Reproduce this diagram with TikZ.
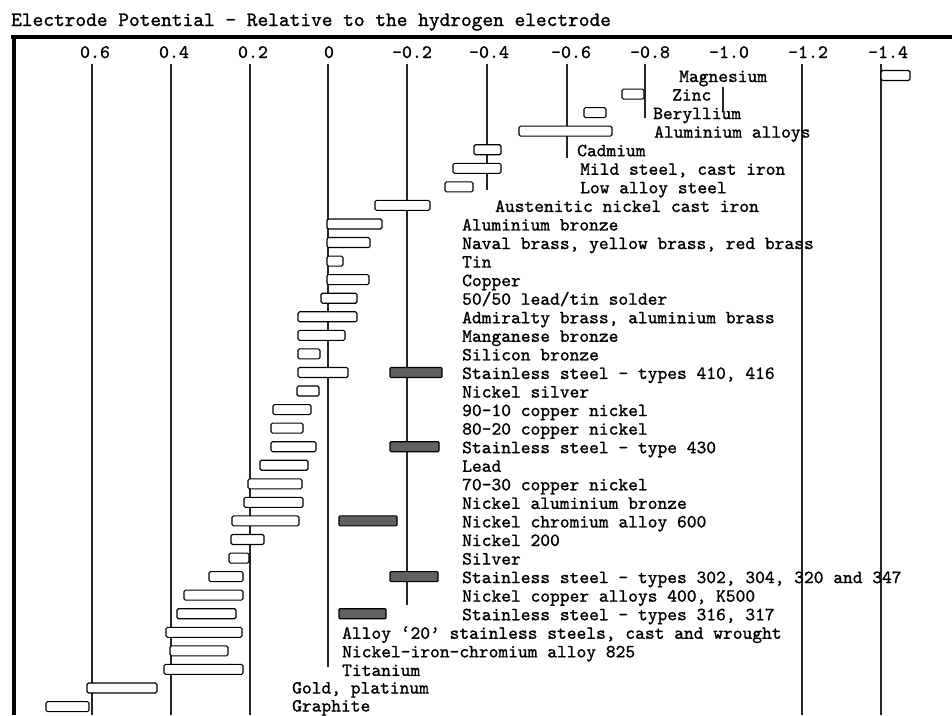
\documentclass[tikz,border=0pt]{standalone}
\usepackage{fontspec}
\newfontfamily\cour[Extension=.otf, FakeBold=1.1]{lmmono10-regular}
\begin{document}
\begin{tikzpicture}[x=1pt,y=-1pt,
  gridline/.style={line width=1.3pt, black!85},
  wbar/.style={draw=black, line width=1.1pt, fill=white, rounded corners=1.5pt},
  dbar/.style={draw=black, line width=1.1pt, fill=black!62, rounded corners=1pt},
  lab/.style={anchor=base west, inner sep=0pt, font=\cour\fontsize{18.6}{20}\selectfont},
  ticklab/.style={anchor=base, inner sep=0pt, font=\cour\fontsize{19}{20}\selectfont},
  titlelab/.style={anchor=base west, inner sep=0pt, font=\cour\fontsize{20.4}{22}\selectfont}]
\useasboundingbox (0,0) rectangle (952,715);
\fill[white] (0,0) rectangle (952,715);

% title and frame
\node[titlelab] (title) at (11,26) {Electrode Potential - Relative to the hydrogen electrode};
\coordinate (tl) at (11,37);
\coordinate (tr) at (952,37);
\coordinate (bl) at (14,715);
\draw[line width=3.4pt] (tl) -- (tr);
\draw[line width=3.4pt] (14,35.3) -- (bl);

% tick labels
\node[ticklab] (t1) at (95,58) {0.6};
\node[ticklab] (t2) at (174,58) {0.4};
\node[ticklab] (t3) at (253,58) {0.2};
\node[ticklab] (t4) at (329,58) {0};
\node[ticklab] (t5) at (412,58) {-0.2};
\node[ticklab] (t6) at (489,58) {-0.4};
\node[ticklab] (t7) at (571,58) {-0.6};
\node[ticklab] (t8) at (650,58) {-0.8};
\node[ticklab] (t9) at (729,58) {-1.0};
\node[ticklab] (t10) at (808,58) {-1.2};
\node[ticklab] (t11) at (888,58) {-1.4};

% vertical scale lines
\draw[gridline] (92,64) -- (92,715);
\draw[gridline] (171,64) -- (171,715);
\draw[gridline] (250,64) -- (250,715);
\draw[gridline] (328,64) -- (328,667);
\draw[gridline] (407,64) -- (407,605);
\draw[gridline] (487,64) -- (487,190);
\draw[gridline] (567,64) -- (567,158);
\draw[gridline] (645,64) -- (645,118);
\draw[gridline] (723,87) -- (723,112);
\draw[gridline] (802,64) -- (802,715);
\draw[gridline] (881,64) -- (881,715);

% white bars  (row i centred at 77+18.56 i, bar from y-6.5 to y+3.5)
\foreach \i/\a/\b in {0/881/910, 1/622/644, 2/584/606, 3/519/612, 4/474/501,
  5/453/501, 6/445/473, 7/375/430, 8/327/382, 9/327/370, 10/327/343,
  11/327/369, 12/321/357, 13/298/357, 14/298/345, 15/298/320, 16/298/348,
  17/297/319, 18/273/311, 19/271/303, 20/271/316, 21/260/308, 22/248/302,
  23/244/303, 24/232/299, 25/231/264, 26/229/249, 27/209/243, 28/184/243,
  29/177/236, 30/166/242, 31/170/228, 32/164/243, 33/87/157, 34/46/89}
  {\draw[wbar] (\a,{77+18.56*\i-6.5}) rectangle (\b,{77+18.56*\i+3.5});}

% dark bars (stainless steels, nickel chromium alloy)
\foreach \i/\a/\b in {16/390/442, 20/390/439, 24/339/397, 27/390/438, 29/339/386}
  {\draw[dbar] (\a,{77+18.56*\i-6.5}) rectangle (\b,{77+18.56*\i+3.5});}

% labels (baseline = row centre + 5)
\node[lab] (l0) at (679,82) {Magnesium};
\node[lab] (l1) at (672,100.56) {Zinc};
\node[lab] (l2) at (653,119.12) {Beryllium};
\node[lab] (l3) at (654,137.68) {Aluminium alloys};
\node[lab] (l4) at (577,156.24) {Cadmium};
\node[lab] (l5) at (580,174.8) {Mild steel, cast iron};
\node[lab] (l6) at (580,193.36) {Low alloy steel};
\node[lab] (l7) at (495,211.92) {Austenitic nickel cast iron};
\node[lab] (l8) at (462,230.48) {Aluminium bronze};
\node[lab] (l9) at (462,249.04) {Naval brass, yellow brass, red brass};
\node[lab] (l10) at (462,267.6) {Tin};
\node[lab] (l11) at (462,286.16) {Copper};
\node[lab] (l12) at (462,304.72) {50/50 lead/tin solder};
\node[lab] (l13) at (462,323.28) {Admiralty brass, aluminium brass};
\node[lab] (l14) at (462,341.84) {Manganese bronze};
\node[lab] (l15) at (462,360.4) {Silicon bronze};
\node[lab] (l16) at (462,378.96) {Stainless steel - types 410, 416};
\node[lab] (l17) at (462,397.52) {Nickel silver};
\node[lab] (l18) at (462,416.08) {90-10 copper nickel};
\node[lab] (l19) at (462,434.64) {80-20 copper nickel};
\node[lab] (l20) at (462,453.2) {Stainless steel - type 430};
\node[lab] (l21) at (462,471.76) {Lead};
\node[lab] (l22) at (462,490.32) {70-30 copper nickel};
\node[lab] (l23) at (462,508.88) {Nickel aluminium bronze};
\node[lab] (l24) at (462,527.44) {Nickel chromium alloy 600};
\node[lab] (l25) at (462,546) {Nickel 200};
\node[lab] (l26) at (462,564.56) {Silver};
\node[lab] (l27) at (462,583.12) {Stainless steel - types 302, 304, 320 and 347};
\node[lab] (l28) at (462,601.68) {Nickel copper alloys 400, K500};
\node[lab] (l29) at (462,620.24) {Stainless steel - types 316, 317};
\node[lab] (l30) at (342,638.8) {Alloy ‘20’ stainless steels, cast and wrought};
\node[lab] (l31) at (342,657.36) {Nickel-iron-chromium alloy 825};
\node[lab] (l32) at (342,675.92) {Titanium};
\node[lab] (l33) at (292,693.5) {Gold, platinum};
\node[lab] (l34) at (292,711.5) {Graphite};
\end{tikzpicture}
\end{document}
